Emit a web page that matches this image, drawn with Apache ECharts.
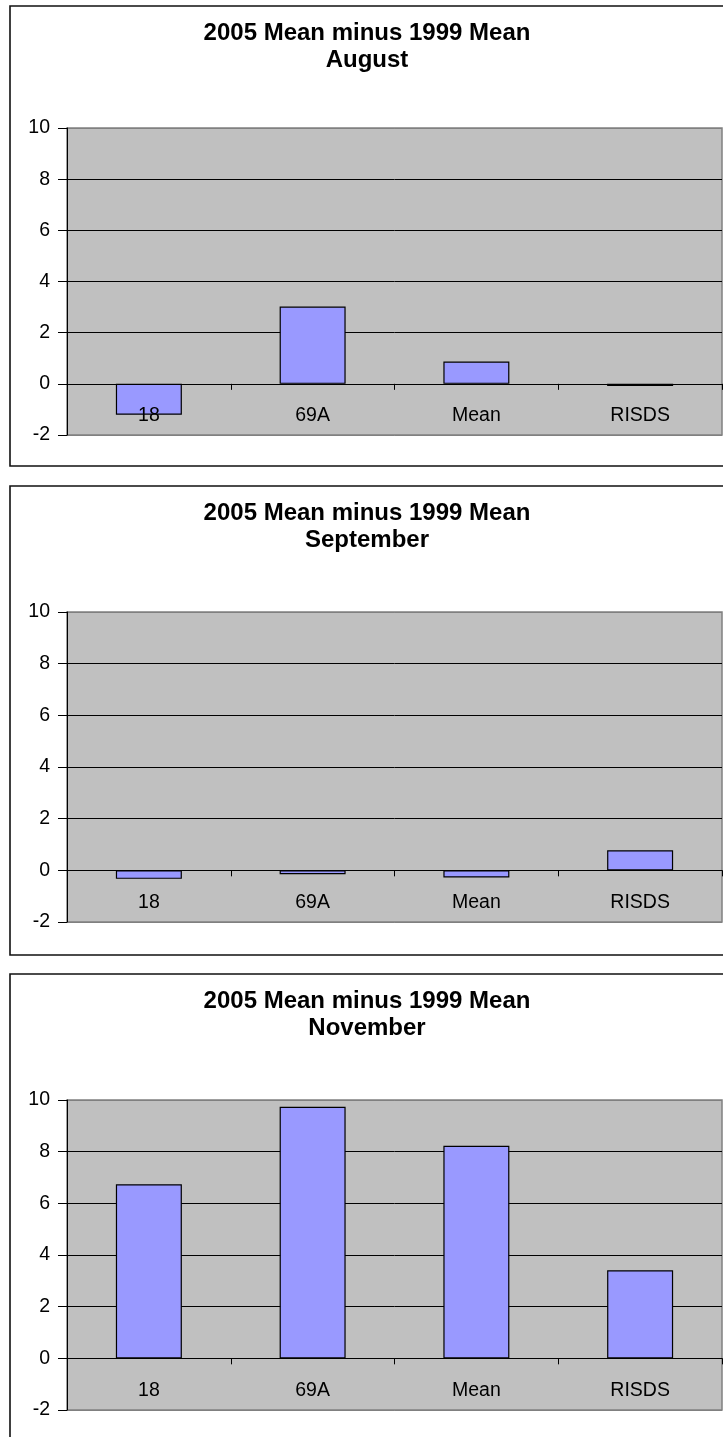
<!DOCTYPE html>
<html>
<head>
<meta charset="utf-8">
<script src="https://cdn.jsdelivr.net/npm/echarts@6/dist/echarts.min.js"></script>
<style>
html,body{margin:0;padding:0;background:#fff;}
#c{width:723px;height:1437px;}
</style>
</head>
<body>
<div id="c"></div>
<script>
// ---- data ----
const categories = ['18', '69A', 'Mean', 'RISDS'];
const augustValues = [-1.21, 3.02, 0.87, -0.08];
const septemberValues = [-0.33, -0.15, -0.28, 0.78];
const novemberValues = [6.74, 9.74, 8.23, 3.41];
const months = ['August', 'September', 'November'];
const titleLine = '2005 Mean minus 1999 Mean';
const yMin = -2, yMax = 10, yStep = 2;

// ---- layout ----
const FONT = '"Liberation Sans", Arial, sans-serif';
const panels = [
  {boxTop: 6,   boxBottom: 466,  plotTop: 128,  plotBottom: 435},
  {boxTop: 486, boxBottom: 955,  plotTop: 612,  plotBottom: 922},
  {boxTop: 974, boxBottom: 1470, plotTop: 1100, plotBottom: 1410}
];
const seriesValues = [augustValues, septemberValues, novemberValues];

const grids = [], xAxes = [], yAxes = [], series = [], graphics = [];
panels.forEach((p, i) => {
  const plotH = p.plotBottom - p.plotTop;
  // place the category axis at value 0
  const zeroOffset = -((0 - yMin) / (yMax - yMin)) * plotH;
  graphics.push({
    type: 'rect', z: -10, silent: true,
    shape: {x: 10, y: p.boxTop, width: 760, height: p.boxBottom - p.boxTop},
    style: {fill: '#fff', stroke: '#111', lineWidth: 1.6}
  });
  graphics.push({
    type: 'text', z: 10, x: 367, y: p.boxTop + 27.5,
    style: {text: titleLine, font: 'bold 24px ' + FONT, fill: '#000', align: 'center', verticalAlign: 'middle'}
  });
  graphics.push({
    type: 'text', z: 10, x: 367, y: p.boxTop + 54,
    style: {text: months[i], font: 'bold 24px ' + FONT, fill: '#000', align: 'center', verticalAlign: 'middle'}
  });
  grids.push({
    left: 67, right: 1, top: p.plotTop, height: plotH,
    show: true, backgroundColor: '#C0C0C0', borderColor: '#808080', borderWidth: 1.5
  });
  xAxes.push({
    type: 'category', gridIndex: i, data: categories, z: 3,
    position: 'bottom', offset: zeroOffset,
    axisLine: {show: true, onZero: false, lineStyle: {color: '#000', width: 1}},
    axisTick: {show: true, length: 6, alignWithLabel: false, interval: 0, lineStyle: {color: '#000'}},
    axisLabel: {show: true, interval: 0, margin: 22, color: '#000', fontSize: 19.5, fontFamily: FONT},
    splitLine: {show: false}
  });
  yAxes.push({
    type: 'value', gridIndex: i, min: yMin, max: yMax, interval: yStep,
    axisLine: {show: true, lineStyle: {color: '#000', width: 1}},
    axisTick: {show: true, length: 9, lineStyle: {color: '#000'}},
    axisLabel: {margin: 17, color: '#000', fontSize: 19.5, fontFamily: FONT},
    splitLine: {show: true, lineStyle: {color: ['#808080', '#000', '#000', '#000', '#000', '#000', '#808080'], width: 1}}
  });
  series.push({
    type: 'bar', xAxisIndex: i, yAxisIndex: i, data: seriesValues[i],
    barWidth: 66,
    itemStyle: {color: '#9999FF', borderColor: '#000', borderWidth: 1.2},
    animation: false
  });
});

const chart = echarts.init(document.getElementById('c'), null, {renderer: 'canvas'});
chart.setOption({
  animation: false,
  backgroundColor: '#fff',
  grid: grids,
  xAxis: xAxes,
  yAxis: yAxes,
  series: series,
  graphic: graphics
});
</script>
</body>
</html>
